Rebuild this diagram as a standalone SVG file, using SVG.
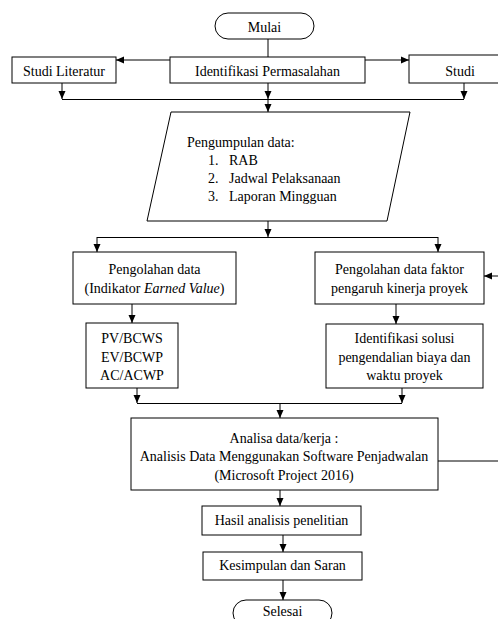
<svg xmlns="http://www.w3.org/2000/svg" width="498" height="619" viewBox="0 0 498 619">
<style>
.b{fill:#fff;stroke:#000;stroke-width:1}
.t{font-family:"Liberation Serif","Times New Roman",serif;font-size:14px;fill:#000}
.c{text-anchor:middle}
.l{fill:none;stroke:#000;stroke-width:1}
.a{fill:none;stroke:#000;stroke-width:1;marker-end:url(#ah)}
</style>
<defs>
<marker id="ah" markerUnits="userSpaceOnUse" markerWidth="8" markerHeight="8" viewBox="0 0 8 8" refX="8" refY="4" orient="auto">
<path d="M0,0.5 L8,4 L0,7.5 Z" fill="#000"/>
</marker>
</defs>
<rect width="498" height="619" fill="#fff"/>
<g id="connectors">
<line class="l" x1="268" y1="39" x2="268" y2="57"/>
<line class="a" x1="170" y1="60" x2="116" y2="60"/>
<line class="a" x1="365" y1="60" x2="409" y2="60"/>
<line class="a" x1="62" y1="83" x2="62" y2="99"/>
<line class="a" x1="268" y1="83" x2="268" y2="99"/>
<line class="a" x1="464" y1="83" x2="464" y2="99"/>
<line class="l" x1="62" y1="99.5" x2="464" y2="99.5"/>
<line class="a" x1="268" y1="99" x2="268" y2="112"/>
<line class="a" x1="268" y1="221" x2="268" y2="237"/>
<line class="l" x1="97" y1="237.5" x2="438" y2="237.5"/>
<line class="a" x1="97" y1="237" x2="97" y2="252"/>
<line class="a" x1="438" y1="237" x2="438" y2="252"/>
<line class="a" x1="132" y1="304" x2="132" y2="323"/>
<line class="a" x1="396" y1="304" x2="396" y2="324"/>
<line class="a" x1="137" y1="388" x2="137" y2="403"/>
<line class="a" x1="402" y1="388" x2="402" y2="403"/>
<line class="l" x1="137" y1="403.5" x2="402" y2="403.5"/>
<line class="a" x1="280" y1="403" x2="280" y2="418"/>
<line class="a" x1="280" y1="490" x2="280" y2="506"/>
<line class="a" x1="283" y1="535" x2="283" y2="552"/>
<line class="a" x1="283" y1="580" x2="283" y2="600"/>
<polyline class="a" points="438,461 500,461 500,276 484,276"/>
</g>
<g id="mulai">
<rect class="b" x="215" y="13" width="99" height="26" rx="13"/>
<text class="t c" x="264.5" y="32">Mulai</text>
</g>
<g id="studi-literatur">
<rect class="b" x="12" y="57" width="104" height="26"/>
<text class="t c" x="64" y="76">Studi Literatur</text>
</g>
<g id="identifikasi">
<rect class="b" x="170" y="57" width="195" height="26"/>
<text class="t c" x="267.5" y="76">Identifikasi Permasalahan</text>
</g>
<g id="studi">
<rect class="b" x="409" y="55" width="100" height="28"/>
<text class="t c" x="460" y="76">Studi</text>
</g>
<g id="pengumpulan">
<polygon class="b" points="171,112 410,112 387,221 147,221"/>
<text class="t" x="187" y="147">Pengumpulan data:</text>
<text class="t" x="208" y="165">1.</text><text class="t" x="229" y="165">RAB</text>
<text class="t" x="208" y="183">2.</text><text class="t" x="229" y="183">Jadwal Pelaksanaan</text>
<text class="t" x="208" y="201">3.</text><text class="t" x="229" y="201">Laporan Mingguan</text>
</g>
<g id="pengolahan-ev">
<rect class="b" x="73" y="252" width="163" height="52"/>
<text class="t c" x="154.5" y="274">Pengolahan data</text>
<text class="t c" x="154.5" y="293">(Indikator <tspan font-style="italic">Earned Value</tspan>)</text>
</g>
<g id="pengolahan-faktor">
<rect class="b" x="315" y="252" width="169" height="52"/>
<text class="t c" x="399.5" y="274">Pengolahan data faktor</text>
<text class="t c" x="399.5" y="293">pengaruh kinerja proyek</text>
</g>
<g id="indikator">
<rect class="b" x="86" y="323" width="92" height="65"/>
<text class="t c" x="132" y="343">PV/BCWS</text>
<text class="t c" x="132" y="362">EV/BCWP</text>
<text class="t c" x="132" y="380">AC/ACWP</text>
</g>
<g id="solusi">
<rect class="b" x="326" y="324" width="157" height="64"/>
<text class="t c" x="404.5" y="343">Identifikasi solusi</text>
<text class="t c" x="404.5" y="362">pengendalian biaya dan</text>
<text class="t c" x="404.5" y="380">waktu proyek</text>
</g>
<g id="analisa">
<rect class="b" x="131" y="418" width="307" height="72"/>
<text class="t c" x="284" y="443">Analisa data/kerja :</text>
<text class="t c" x="284" y="461">Analisis Data Menggunakan Software Penjadwalan</text>
<text class="t c" x="284" y="480">(Microsoft Project 2016)</text>
</g>
<g id="hasil">
<rect class="b" x="202" y="506" width="159" height="29"/>
<text class="t c" x="281.5" y="525">Hasil analisis penelitian</text>
</g>
<g id="kesimpulan">
<rect class="b" x="203" y="552" width="159" height="28"/>
<text class="t c" x="282.5" y="570">Kesimpulan dan Saran</text>
</g>
<g id="selesai">
<rect class="b" x="233" y="600" width="99" height="26" rx="13"/>
<text class="t c" x="282.5" y="616">Selesai</text>
</g>
</svg>
